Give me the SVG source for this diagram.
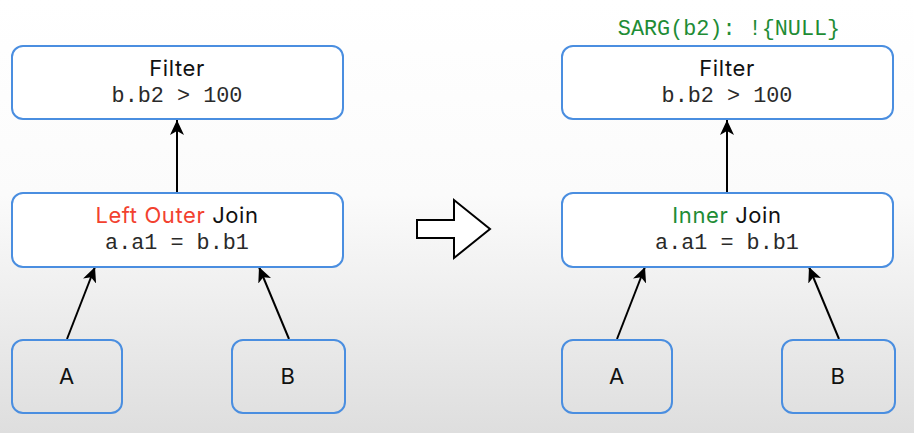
<svg xmlns="http://www.w3.org/2000/svg" width="914" height="433" viewBox="0 0 914 433">
<defs>
<linearGradient id="bg" x1="0" y1="0" x2="0" y2="1">
<stop offset="0" stop-color="#ffffff"/>
<stop offset="0.45" stop-color="#fbfbfb"/>
<stop offset="1" stop-color="#dedede"/>
</linearGradient>
<marker id="ah" viewBox="0 0 15 14" refX="15" refY="7" markerWidth="15" markerHeight="14" markerUnits="userSpaceOnUse" orient="auto">
<path d="M0,0 L15,7 L0,14 L4,7 z" fill="#000"/>
</marker>
<style>
.box{fill:#ffffff;stroke:#4a8ee0;stroke-width:2}
.leaf{fill:none;stroke:#4a8ee0;stroke-width:2}
.t{font-family:Inter,"Liberation Sans",sans-serif;font-size:22px;font-weight:400;letter-spacing:0.6px;fill:#111;text-anchor:middle}
.m{font-family:"Liberation Mono",monospace;font-size:21.8px;fill:#2a2a2a;text-anchor:middle}
.edge{stroke:#000;stroke-width:2;fill:none;marker-end:url(#ah)}
</style>
</defs>
<rect width="914" height="433" fill="url(#bg)"/>
<g id="connectors">
<line class="edge" x1="177" y1="193" x2="177" y2="120"/>
<line class="edge" x1="67" y1="339" x2="95" y2="267"/>
<line class="edge" x1="289" y1="339" x2="259" y2="267"/>
<line class="edge" x1="727" y1="193" x2="727" y2="120"/>
<line class="edge" x1="617" y1="339" x2="645" y2="267"/>
<line class="edge" x1="839" y1="339" x2="809" y2="267"/>
</g>
<g id="filter-left">
<rect class="box" x="12" y="46" width="331" height="73" rx="11"/>
<text class="t" x="177" y="76">Filter</text>
<text class="m" x="177" y="102">b.b2 &gt; 100</text>
</g>
<g id="join-left">
<rect class="box" x="12" y="193" width="331" height="74" rx="11"/>
<text class="t" x="177" y="223"><tspan fill="#f2412f">Left Outer</tspan> Join</text>
<text class="m" x="177" y="249">a.a1 = b.b1</text>
</g>
<g id="a-left">
<rect class="leaf" x="12" y="340" width="110" height="73" rx="11"/>
<text class="t" x="67" y="384">A</text>
</g>
<g id="b-left">
<rect class="leaf" x="232" y="340" width="113" height="73" rx="11"/>
<text class="t" x="288" y="384">B</text>
</g>
<g id="transform-arrow">
<path d="M417,220 L454,220 L454,200 L490,229 L454,258 L454,238 L417,238 Z" fill="#fff" stroke="#000" stroke-width="2"/>
</g>
<g id="sarg">
<text class="m" x="729" y="35" style="fill:#1e8c35">SARG(b2): !{NULL}</text>
</g>
<g id="filter-right">
<rect class="box" x="562" y="46" width="331" height="73" rx="11"/>
<text class="t" x="727" y="76">Filter</text>
<text class="m" x="727" y="102">b.b2 &gt; 100</text>
</g>
<g id="join-right">
<rect class="box" x="562" y="193" width="331" height="74" rx="11"/>
<text class="t" x="727" y="223"><tspan fill="#1e8c35">Inner</tspan> Join</text>
<text class="m" x="727" y="249">a.a1 = b.b1</text>
</g>
<g id="a-right">
<rect class="leaf" x="562" y="340" width="110" height="73" rx="11"/>
<text class="t" x="617" y="384">A</text>
</g>
<g id="b-right">
<rect class="leaf" x="782" y="340" width="113" height="73" rx="11"/>
<text class="t" x="838" y="384">B</text>
</g>
</svg>
